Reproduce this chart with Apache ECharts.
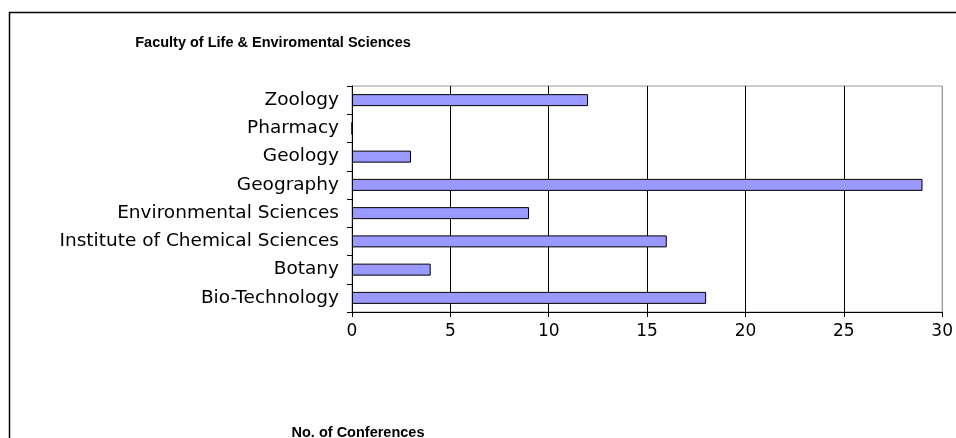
<!DOCTYPE html>
<html>
<head>
<meta charset="utf-8">
<script src="https://cdn.jsdelivr.net/npm/echarts@6/dist/echarts.min.js"></script>
<style>html,body{margin:0;padding:0;background:#fff}#c{width:956px;height:438px}</style>
</head>
<body>
<div id="c"></div>
<script>
var titleText = 'Faculty of Life & Enviromental Sciences';
var axisTitle = 'No. of Conferences';
var categories = ['Bio-Technology', 'Botany', 'Institute of Chemical Sciences', 'Environmental Sciences', 'Geography', 'Geology', 'Pharmacy', 'Zoology'];
var conferences = [18, 4, 16, 9, 29, 3, 0, 12];
var xTicks = [0, 5, 10, 15, 20, 25, 30];

var chart = echarts.init(document.getElementById('c'), null, {renderer: 'canvas'});
chart.setOption({
  animation: false,
  backgroundColor: '#fff',
  title: [
    {text: titleText, left: 268, top: 30, textAlign: 'center',
     textStyle: {fontFamily: 'Liberation Sans', fontWeight: 'bold', fontSize: 14.5, color: '#000'}},
    {text: axisTitle, left: 353, top: 420, textAlign: 'center',
     textStyle: {fontFamily: 'Liberation Sans', fontWeight: 'bold', fontSize: 14.5, color: '#000'}}
  ],
  graphic: [
    {type: 'rect', silent: true, z: 100,
     shape: {x: 9.5, y: 12.5, width: 1000, height: 500},
     style: {fill: null, stroke: '#000', lineWidth: 1.5}}
  ],
  grid: {left: 352, right: 13, top: 86, bottom: 126, show: true, borderColor: '#999', borderWidth: 1, backgroundColor: 'transparent'},
  xAxis: {
    type: 'value', min: xTicks[0], max: xTicks[xTicks.length - 1], interval: 5,
    axisLine: {show: true, lineStyle: {color: '#000', width: 1}},
    axisTick: {show: true, length: 5, lineStyle: {color: '#000'}},
    axisLabel: {color: '#000', fontFamily: 'DejaVu Sans', fontSize: 17, margin: 11},
    splitLine: {show: true, lineStyle: {color: ['#000', '#000', '#000', '#000', '#000', '#000', '#999'], width: 1}}
  },
  yAxis: {
    type: 'category', data: categories,
    axisLine: {show: true, lineStyle: {color: '#000', width: 1}},
    axisTick: {show: true, length: 5, lineStyle: {color: '#000'}},
    axisLabel: {color: '#000', fontFamily: 'DejaVu Sans', fontSize: 18.5, margin: 13}
  },
  series: [{
    type: 'bar', data: conferences, barWidth: 12,
    itemStyle: {color: '#9999FF', borderColor: '#000', borderWidth: 1}
  }]
});
</script>
</body>
</html>
